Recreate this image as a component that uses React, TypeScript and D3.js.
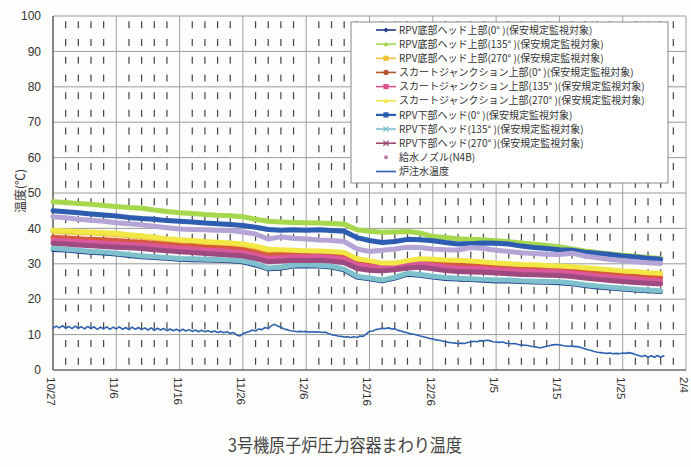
import React from 'react';
import * as d3 from 'd3';

// ---- data ----
const tickLabels = ["10/27", "11/6", "11/16", "11/26", "12/6", "12/16", "12/26", "1/5", "1/15", "1/25", "2/4"];
const yTicks = [0, 10, 20, 30, 40, 50, 60, 70, 80, 90, 100];
const sampleDays = d3.range(0, 97, 2); // day offsets from 10/27
const injDays = d3.range(0, 97, 0.5);

const rpvBottomHead0 = [34.0,33.8,33.5,33.2,33.0,32.7,32.3,31.9,31.7,31.5,31.2,31.1,31.0,30.9,30.8,30.5,29.6,28.5,28.7,29.3,29.4,29.3,29.0,28.2,26.2,25.7,25.1,25.9,27.0,26.7,26.2,25.8,25.6,25.5,25.3,25.1,25.1,24.9,24.8,24.7,24.6,24.3,23.8,23.4,23.1,22.8,22.5,22.3,22.1];
const rpvBottomHead135 = [47.5,47.3,47.0,46.8,46.5,46.2,45.9,45.7,45.2,44.8,44.4,44.2,43.9,43.7,43.6,43.3,42.6,42.0,41.8,41.7,41.6,41.5,41.4,41.2,39.6,39.2,38.9,39.0,39.1,38.7,37.7,37.4,37.1,36.9,36.8,36.5,36.2,35.9,35.5,35.2,34.8,34.2,33.6,33.2,32.8,32.4,32.1,31.8,31.5];
const rpvBottomHead270 = [39.2,39.0,38.8,38.7,38.5,38.3,37.9,37.6,37.2,36.8,36.5,36.3,36.0,35.8,35.6,35.3,34.7,33.8,33.7,33.5,33.4,33.3,33.2,32.9,31.1,30.6,29.9,29.9,30.6,31.1,31.0,30.8,30.7,30.5,30.2,29.9,29.7,29.5,29.4,29.2,29.1,28.9,28.6,28.3,28.0,27.7,27.5,27.2,27.0];
const skirt0 = [37.5,37.3,37.1,36.9,36.8,36.6,36.3,36.1,35.8,35.5,35.2,35.0,34.7,34.5,34.3,34.0,33.3,32.4,32.6,32.8,32.7,32.8,32.6,32.1,30.5,30.0,29.8,30.1,30.6,30.8,30.4,29.9,29.6,29.5,29.4,29.2,29.0,28.8,28.7,28.6,28.5,28.2,27.8,27.4,27.1,26.8,26.5,26.2,26.0];
const skirt135 = [36.7,36.5,36.3,36.1,35.9,35.7,35.5,35.3,35.0,34.7,34.4,34.2,33.9,33.7,33.5,33.2,32.5,31.6,31.8,32.0,31.9,32.0,31.8,31.3,29.7,29.2,29.0,29.3,29.8,30.0,29.6,29.1,28.8,28.7,28.6,28.4,28.2,28.0,27.9,27.8,27.7,27.4,27.0,26.6,26.3,26.0,25.7,25.4,25.2];
const skirt270 = [39.5,39.3,39.1,39.0,38.8,38.6,38.2,37.9,37.5,37.1,36.8,36.6,36.3,36.1,35.9,35.6,35.0,34.1,34.0,33.8,33.7,33.6,33.5,33.2,31.4,30.9,30.2,30.2,30.9,31.4,31.3,31.1,31.0,30.8,30.5,30.2,30.0,29.8,29.7,29.5,29.4,29.2,28.9,28.6,28.3,28.0,27.8,27.5,27.3];
const lowerHead0 = [45.0,44.7,44.4,44.1,43.8,43.5,43.1,42.8,42.6,42.2,42.0,41.8,41.5,41.3,41.1,40.8,40.3,39.7,39.5,39.6,39.5,39.6,39.4,39.2,37.4,36.6,36.0,36.3,36.9,36.8,36.5,36.0,35.6,35.7,35.9,35.8,35.6,35.0,34.6,34.3,34.0,33.8,33.3,33.0,32.6,32.2,31.9,31.6,31.3];
const lowerHead135 = [34.4,34.1,33.8,33.5,33.3,33.0,32.6,32.2,32.0,31.8,31.5,31.4,31.3,31.2,31.1,30.8,30.0,28.8,29.0,29.6,29.7,29.6,29.3,28.5,26.5,26.0,25.4,26.2,27.3,27.0,26.5,26.1,25.9,25.8,25.6,25.4,25.4,25.2,25.1,25.0,24.9,24.6,24.1,23.7,23.4,23.1,22.8,22.6,22.4];
const lowerHead270 = [35.8,35.6,35.3,35.1,34.9,34.7,34.5,34.3,34.0,33.7,33.4,33.2,32.9,32.7,32.5,32.2,31.5,30.6,30.8,31.0,30.9,31.0,30.8,30.3,28.7,28.2,28.0,28.3,28.8,29.0,28.6,28.1,27.8,27.7,27.6,27.4,27.2,27.0,26.9,26.8,26.7,26.4,26.0,25.6,25.3,25.0,24.7,24.5,24.3];
const feedwaterNozzle = [43.3,43.0,42.6,42.3,42.0,41.6,41.3,41.0,40.6,40.2,39.8,39.7,39.6,39.5,39.4,39.0,38.4,37.0,37.6,37.2,37.0,36.7,36.6,36.3,34.2,33.5,33.8,34.2,34.7,34.6,34.2,34.0,33.9,34.6,34.3,33.8,33.5,33.1,32.9,32.7,32.6,33.0,32.2,31.7,31.2,30.9,30.6,30.3,30.1];
const injectionTemp = [
  11.8,12.4,11.9,12.5,11.8,12.3,11.7,12.4,11.8,12.2,
  11.6,12.3,11.7,12.2,11.5,12.1,11.6,12.2,11.5,12.1,
  11.6,12.2,11.5,12.0,11.4,12.1,11.5,12.0,11.4,11.9,
  11.3,11.9,11.2,11.8,11.3,11.7,11.1,11.6,11.1,11.5,
  11.0,11.5,11.0,11.4,10.9,11.3,10.8,11.2,10.8,11.1,
  10.7,11.0,10.6,10.9,10.5,10.8,10.3,10.6,9.9,9.6,
  10.3,10.6,10.9,11.3,11.0,11.6,11.4,12.0,11.7,12.5,
  12.9,12.4,12.1,11.6,11.4,11.1,11.0,10.8,10.9,10.8,
  10.9,10.7,10.8,10.7,10.8,10.6,10.7,10.3,10.0,9.8,
  9.6,9.5,9.3,9.4,9.2,9.4,9.2,9.6,9.5,10.2,
  10.9,11.0,11.4,11.6,11.8,11.7,11.9,11.6,11.7,11.2,
  11.0,10.7,10.5,10.2,10.1,9.9,9.6,9.4,9.2,8.9,
  8.8,8.5,8.4,8.2,8.0,7.8,7.7,7.6,7.5,7.6,
  7.5,7.8,7.9,8.1,8.0,8.3,8.2,8.4,8.3,8.0,
  7.9,7.8,7.9,7.6,7.5,7.4,7.5,7.2,7.1,7.0,
  6.9,6.7,6.6,6.4,6.3,6.5,6.7,6.9,7.1,7.2,
  7.1,6.9,6.8,6.7,6.8,6.6,6.6,6.3,6.0,5.7,
  5.5,5.2,5.0,4.9,4.8,4.7,4.8,4.6,4.7,4.6,
  4.8,4.7,4.9,4.7,4.4,4.1,3.8,4.1,3.6,4.0,
  3.6,4.1,3.6,4.0
];

const seriesNames = [
  "RPV底部ヘッド上部(0° )(保安規定監視対象)",
  "RPV底部ヘッド上部(135° )(保安規定監視対象)",
  "RPV底部ヘッド上部(270° )(保安規定監視対象)",
  "スカートジャンクション上部(0° )(保安規定監視対象)",
  "スカートジャンクション上部(135° )(保安規定監視対象)",
  "スカートジャンクション上部(270° )(保安規定監視対象)",
  "RPV下部ヘッド(0° )(保安規定監視対象)",
  "RPV下部ヘッド(135° )(保安規定監視対象)",
  "RPV下部ヘッド(270° )(保安規定監視対象)",
  "給水ノズル(N4B)",
  "炉注水温度",
];

type S = { name: string; days: number[]; values: number[]; color: string; width: number; marker: string; legendLine: boolean };

const series: S[] = [
  { name: seriesNames[0], days: sampleDays, values: rpvBottomHead0, color: "#1e3c88", width: 4.5, marker: "diamond", legendLine: true },
  { name: seriesNames[1], days: sampleDays, values: rpvBottomHead135, color: "#a5d84c", width: 5, marker: "triangle", legendLine: true },
  { name: seriesNames[2], days: sampleDays, values: rpvBottomHead270, color: "#efc23a", width: 5, marker: "square", legendLine: true },
  { name: seriesNames[3], days: sampleDays, values: skirt0, color: "#d8583a", width: 5, marker: "circle", legendLine: true },
  { name: seriesNames[4], days: sampleDays, values: skirt135, color: "#d9599a", width: 5, marker: "square", legendLine: true },
  { name: seriesNames[5], days: sampleDays, values: skirt270, color: "#f1e845", width: 5, marker: "triangle", legendLine: true },
  { name: seriesNames[6], days: sampleDays, values: lowerHead0, color: "#2d5db0", width: 5, marker: "square", legendLine: true },
  { name: seriesNames[7], days: sampleDays, values: lowerHead135, color: "#7fc0cd", width: 5, marker: "x", legendLine: true },
  { name: seriesNames[8], days: sampleDays, values: lowerHead270, color: "#9c4a80", width: 5, marker: "x", legendLine: true },
  { name: seriesNames[9], days: sampleDays, values: feedwaterNozzle, color: "#b5a5d6", width: 5, marker: "dot", legendLine: false },
  { name: seriesNames[10], days: injDays, values: injectionTemp, color: "#2f62b0", width: 1.6, marker: "none", legendLine: true },
];

const legendMarkerColor = ["#1e3c88", "#a5d84c", "#efc23a", "#b5552a", "#e0508a", "#f1e845", "#2d5db0", "#7fc0cd", "#9c4a70", "#c07aa8", "#2f62b0"];

const W = 691, H = 467;
const M = { left: 53, right: 686, top: 16, bottom: 370 };

function Marker({ type, x, y, color }: { type: string; x: number; y: number; color: string }) {
  const s = 2.6;
  if (type === "diamond") return <path d={`M${x},${y - s}L${x + s},${y}L${x},${y + s}L${x - s},${y}Z`} fill={color} />;
  if (type === "square") return <rect x={x - s} y={y - s} width={2 * s} height={2 * s} fill={color} />;
  if (type === "triangle") return <path d={`M${x},${y - s}L${x + s},${y + s * 0.8}L${x - s},${y + s * 0.8}Z`} fill={color} />;
  if (type === "circle") return <circle cx={x} cy={y} r={s} fill={color} />;
  if (type === "dot") return <circle cx={x} cy={y} r={2} fill={color} />;
  if (type === "x") return <path d={`M${x - s},${y - s}L${x + s},${y + s}M${x - s},${y + s}L${x + s},${y - s}`} stroke={color} strokeWidth={1.3} />;
  return null;
}

export default function App() {
  const x = d3.scaleLinear().domain([0, 100]).range([M.left, M.right]);
  const y = d3.scaleLinear().domain([0, 100]).range([M.bottom, M.top]);
  const majorDays = d3.range(0, 101, 10);
  const minorDays = d3.range(0, 101, 2).filter((d) => d % 10 !== 0);

  const font = "'Liberation Sans', Arial, 'Noto Sans CJK JP', sans-serif";
  const jfont = "'Noto Sans CJK JP', 'Liberation Sans', sans-serif";

  const lg = { x0: 351, y0: 22, w: 317, h: 161, rowY: 30, step: 14.15 };

  return (
    <svg width={W} height={H} style={{ position: "absolute", left: 0, top: 0, background: "#fff" }}>
      <rect x={0} y={0} width={W} height={H} fill="#fdfdfb" />
      {/* horizontal gridlines */}
      {yTicks.map((t) => (
        <line key={"h" + t} x1={M.left} x2={M.right} y1={y(t)} y2={y(t)} stroke="#9a9a9a" strokeWidth={1} />
      ))}
      {/* major vertical gridlines */}
      {majorDays.map((d) => (
        <line key={"v" + d} x1={x(d)} x2={x(d)} y1={M.top} y2={M.bottom} stroke="#a0a0a0" strokeWidth={1} />
      ))}
      {/* minor dashed vertical lines */}
      {minorDays.map((d) => (
        <line key={"m" + d} x1={x(d)} x2={x(d)} y1={M.top} y2={M.bottom} stroke="#444" strokeWidth={1.2}
          strokeDasharray="7 10.7" strokeDashoffset={12.35} />
      ))}
      {/* axes */}
      <line x1={M.left} x2={M.left} y1={M.top} y2={M.bottom} stroke="#555" strokeWidth={1.2} />
      <line x1={M.left} x2={M.right} y1={M.bottom} y2={M.bottom} stroke="#555" strokeWidth={1.2} />

      {/* series lines */}
      {series.map((s, i) => {
        const gen = d3.line<number>().x((_, j) => x(s.days[j])).y((v) => y(v)).curve(d3.curveLinear);
        return (
          <path key={"s" + i} d={gen(s.values) || ""} fill="none" stroke={s.color} strokeWidth={s.width}
            strokeLinejoin="round" strokeLinecap="round" />
        );
      })}

      {/* y tick labels */}
      {yTicks.map((t) => (
        <text key={"yl" + t} x={41} y={y(t)} dy="0.35em" textAnchor="end" fontFamily={font} fontSize={12} fill="#333">{t}</text>
      ))}
      {/* x tick labels */}
      {tickLabels.map((lab, i) => {
        const px = x(majorDays[i]) - 2;
        return (
          <text key={"xl" + i} transform={`translate(${px},377) rotate(90)`} dy="0.35em" textAnchor="start"
            fontFamily={font} fontSize={11.5} fill="#333">{lab}</text>
        );
      })}
      {/* y axis title */}
      <text transform={`translate(21,191) rotate(-90)`} textAnchor="middle" dy="0.35em" fontFamily={jfont} fontSize={12} fill="#333">温度(℃)</text>

      {/* legend */}
      <rect x={lg.x0} y={lg.y0} width={lg.w} height={lg.h} fill="#fff" stroke="#888" strokeWidth={1} />
      {series.map((s, i) => {
        const ry = lg.rowY + i * lg.step;
        const c = legendMarkerColor[i];
        return (
          <g key={"lg" + i}>
            {s.legendLine && <line x1={376} x2={396} y1={ry} y2={ry} stroke={c} strokeWidth={i === 6 ? 2.2 : 1.6} />}
            <Marker type={s.marker} x={386} y={ry} color={c} />
            <text x={399} y={ry} dy="0.36em" fontFamily={jfont} fontSize={10} fill="#333">{s.name}</text>
          </g>
        );
      })}

      {/* title */}
      <text x={345} y={452} textAnchor="middle" fontFamily={jfont} fontSize={18} fill="#444"
        textLength={234} lengthAdjust="spacingAndGlyphs">3号機原子炉圧力容器まわり温度</text>
    </svg>
  );
}
